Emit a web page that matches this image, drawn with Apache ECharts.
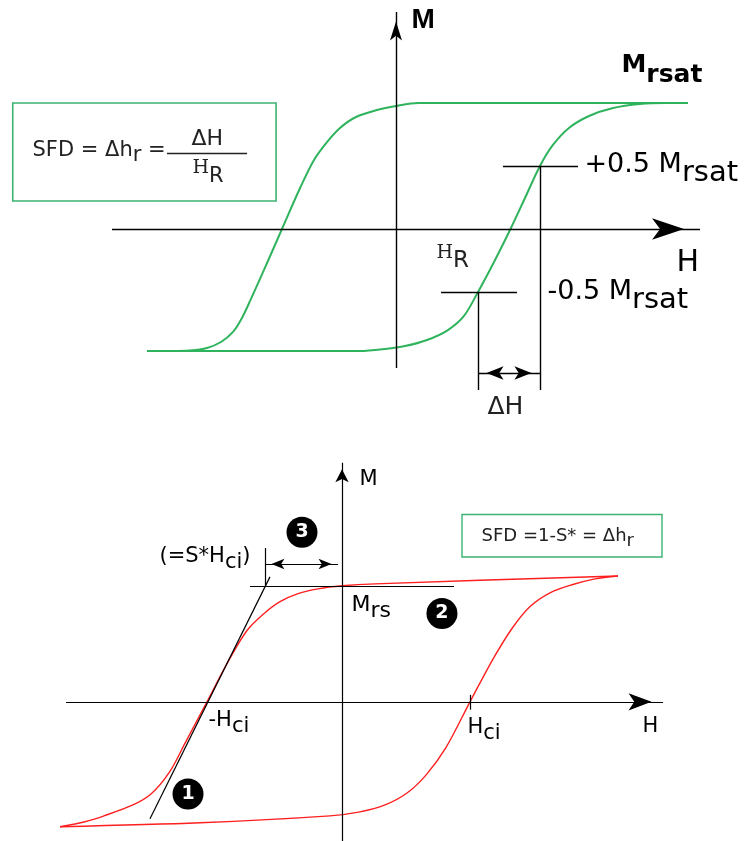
<!DOCTYPE html>
<html>
<head>
<meta charset="utf-8">
<script src="https://cdn.jsdelivr.net/npm/echarts@6/dist/echarts.min.js"></script>
<style>
html,body{margin:0;padding:0;background:#fff}
#chart{width:750px;height:841px}
</style>
</head>
<body>
<div id="chart"></div>
<script>
// ---------- Remanence loop (upper panel), H in units of H_R, M in units of M_rsat ----------
const remUpperH = [2.517, 1.5, 0.19, 0, -0.164, -0.345, -0.483, -0.595, -0.707, -0.823, -0.983,
  -1.138, -1.254, -1.328, -1.405, -1.509, -1.629, -1.776, -1.948];
const remUpperM = [1.0, 1.0, 1.0, 0.976, 0.944, 0.889, 0.802, 0.690, 0.548, 0.333, 0,
  -0.325, -0.563, -0.706, -0.817, -0.897, -0.944, -0.964, -0.968];
const remLowerH = [-2.147, -0.310, -0.095, 0.078, 0.267, 0.448, 0.586, 0.707, 0.845, 0.987, 1.116, 1.241,
  1.353, 1.491, 1.664, 1.871, 2.103, 2.319, 2.517];
const remLowerM = [-0.968, -0.968, -0.952, -0.929, -0.881, -0.802, -0.690, -0.5, -0.262, 0, 0.254, 0.5,
  0.667, 0.802, 0.897, 0.960, 0.992, 1.0, 1.0];

// ---------- Hysteresis loop (lower panel), H in units of H_ci, M in units of M_rs ----------
const hysUpperH = [2.156, 0.258, 0, -0.1875, -0.344, -0.484, -0.609, -0.742, -0.875, -1.055,
  -1.223, -1.348, -1.492, -1.633, -1.859, -2.008, -2.203];
const hysUpperM = [1.085, 1.017, 1.0, 0.974, 0.932, 0.863, 0.761, 0.615, 0.376, 0,
  -0.350, -0.607, -0.795, -0.889, -0.983, -1.034, -1.077];
const hysLowerH = [-2.203, -1.109, -0.094, 0.141, 0.336, 0.508, 0.656, 0.813, 1.0, 1.184, 1.328,
  1.469, 1.625, 1.797, 1.977, 2.156];
const hysLowerM = [-1.077, -1.043, -0.983, -0.949, -0.889, -0.786, -0.632, -0.393, 0, 0.376, 0.632,
  0.821, 0.940, 1.009, 1.060, 1.085];

// Reference levels and field markers
const halfLevels = [0.5, -0.5];          // ±0.5 Mrsat
const halfFields = [1.241, 0.707];       // H where the rising branch crosses ±0.5 Mrsat
const tangentH = [-1.5, -0.563];         // tangent at -Hci (S* construction)
const tangentM = [-1.009, 1.077];
const sStarH = -0.602;                   // S*·Hci intercept on the Mrs level

// Text: [rich text, H, M, main font size]
const upperTexts = [
  ['{ax|M}', 0.138, 1.651, 28],
  ['{mb|M}{mbs|rsat}', 1.948, 1.290, 25],
  ['{bg|+0.5 M}{bgs|rsat}', 1.629, 0.508, 27],
  ['{bg|-0.5 M}{bgs|rsat}', 1.310, -0.5, 27],
  ['{hx|H}', 2.422, -0.278, 30],
  ['{sr|H}{srs|R}', 0.353, -0.194, 19],
  ['{fm|SFD = Δh}{fms|r}{fm| =}', -3.129, 0.615, 21],
  ['{fn|ΔH}', -1.759, 0.706, 22],
  ['{sr|H}{fR|R}', -1.75, 0.480, 19],
  ['{dh|ΔH}', 0.793, -1.421, 25]
];
const lowerTexts = [
  ['{bl|M}', 0.141, 1.915, 21],
  ['{bl|H}', 2.352, -0.218, 21],
  ['{bl|(=S*H}{bls|ci}{bl|)}', -1.422, 1.252, 21],
  ['{bm|M}{bms|rs}', 0.078, 0.829, 22],
  ['{bl|-H}{bls|ci}', -1.039, -0.167, 21],
  ['{bl|H}{bls|ci}', 0.984, -0.222, 21],
  ['{bx|SFD =1-S* = Δh}{bxs|r}', 1.094, 1.423, 18]
];
// Numbered markers: [H, M, number]
const badges = [[-0.3125, 1.462, '3'], [0.781, 0.761, '2'], [-1.203, -0.795, '1']];

// ---------- Panel geometry ----------
const UP = {ox: 396, oy: 229, kx: 116, ky: 126, h: [-3.4, 2.8], m: [-1.5, 1.8]};
const LO = {ox: 342, oy: 704, kx: 128, ky: 117, h: [-2.5, 2.7], m: [-1.2, 2.2]};
function gridOf(p) {
  return {
    left: p.ox + p.h[0] * p.kx, top: p.oy - p.m[1] * p.ky,
    width: (p.h[1] - p.h[0]) * p.kx, height: (p.m[1] - p.m[0]) * p.ky
  };
}
const zip = (a, b) => a.map((v, i) => [v, b[i]]);

const GREEN = '#2fb35c', BOX = '#3cb371', RED = '#ff1f1f', INK = '#000';
const SANS = 'DejaVu Sans';
function st(size, extra) {
  return Object.assign({fontFamily: SANS, fontSize: size, color: INK, verticalAlign: 'top'}, extra || {});
}
const rich = {
  ax: st(28, {fontFamily: 'Liberation Sans', fontWeight: 'bold'}),
  mb: st(25, {fontWeight: 'bold'}),
  mbs: st(25, {fontWeight: 'bold', padding: [10, 0, 0, 0]}),
  bg: st(27),
  bgs: st(29, {padding: [8, 0, 0, 0]}),
  hx: st(30),
  sr: st(19, {fontFamily: 'DejaVu Serif', color: '#222'}),
  srs: st(23, {color: '#222', padding: [6, 0, 0, 0]}),
  fm: st(21, {color: '#222'}),
  fms: st(21, {color: '#222', padding: [5, 0, 0, 0]}),
  fn: st(22, {color: '#222'}),
  fR: st(21, {color: '#222', padding: [8, 0, 0, 0]}),
  dh: st(25, {color: '#222'}),
  bl: st(21),
  bls: st(21, {padding: [6, 0, 0, 0]}),
  bm: st(22),
  bms: st(22, {padding: [6, 0, 0, 0]}),
  bx: st(18, {color: '#222'}),
  bxs: st(18, {color: '#222', padding: [5, 0, 0, 0]})
};

function textItems(list) {
  return list.map(t => ({
    value: [t[1], t[2]],
    label: {formatter: t[0], offset: [0, -t[3] / 2]}
  }));
}
function seg(a, b) { return [{coord: a}, {coord: b}]; }
function arrowTo(a, b, size) {
  return [{coord: a, symbol: 'none'},
    {coord: b, symbol: 'arrow', symbolSize: size, symbolOffset: [0, '50%']}];
}
function arrowBoth(a, b, size) {
  return [{coord: a, symbol: 'arrow', symbolSize: size, symbolOffset: [0, '50%']},
    {coord: b, symbol: 'arrow', symbolSize: size, symbolOffset: [0, '50%']}];
}

const markLineBase = {
  silent: true, symbol: 'none', label: {show: false}, emphasis: {disabled: true},
  lineStyle: {color: INK, width: 1.4, type: 'solid', opacity: 1}, animation: false
};

const hiddenAxis = (p, idx) => ({gridIndex: idx, type: 'value', min: p.h[0], max: p.h[1], show: false});
const hiddenYAxis = (p, idx) => ({gridIndex: idx, type: 'value', min: p.m[0], max: p.m[1], show: false});

const curveStyle = (color, w) => ({
  type: 'line', smooth: 0.3, showSymbol: false, symbol: 'none',
  lineStyle: {color: color, width: w}, silent: true, z: 3
});

const textLayer = {
  type: 'scatter', symbolSize: 1, silent: true, z: 5,
  itemStyle: {color: 'rgba(0,0,0,0)', opacity: 1},
  label: {show: true, position: [0, 0], align: 'left', verticalAlign: 'top', opacity: 1, rich: rich}
};

const option = {
  animation: false,
  grid: [gridOf(UP), gridOf(LO)],
  xAxis: [hiddenAxis(UP, 0), hiddenAxis(LO, 1)],
  yAxis: [hiddenYAxis(UP, 0), hiddenYAxis(LO, 1)],
  series: [
    Object.assign(curveStyle(GREEN, 2), {name: 'upper', xAxisIndex: 0, yAxisIndex: 0, data: zip(remUpperH, remUpperM)}),
    Object.assign(curveStyle(GREEN, 2), {name: 'lower', xAxisIndex: 0, yAxisIndex: 0, data: zip(remLowerH, remLowerM)}),
    Object.assign(curveStyle(RED, 1.4), {name: 'upper', xAxisIndex: 1, yAxisIndex: 1, data: zip(hysUpperH, hysUpperM)}),
    Object.assign(curveStyle(RED, 1.4), {name: 'lower', xAxisIndex: 1, yAxisIndex: 1, data: zip(hysLowerH, hysLowerM)}),
    Object.assign({}, textLayer, {
      // upper panel: axes, guides, formula box and text
      xAxisIndex: 0, yAxisIndex: 0,
      data: textItems(upperTexts),
      markLine: Object.assign({}, markLineBase, {
        data: [
          arrowTo([-2.448, 0], [2.621, 0], [16, 32]),
          arrowTo([0, -1.103], [0, 1.722], [9, 19]),
          seg([0.922, halfLevels[0]], [1.569, halfLevels[0]]),
          seg([0.388, halfLevels[1]], [1.043, halfLevels[1]]),
          seg([halfFields[0], halfLevels[0]], [halfFields[0], -1.278]),
          seg([halfFields[1], halfLevels[1]], [halfFields[1], -1.278]),
          arrowBoth([halfFields[1], -1.143], [halfFields[0], -1.143], [10, 17]),
          [{coord: [-1.974, 0.603], lineStyle: {color: '#222', width: 1.3}}, {coord: [-1.284, 0.603]}]
        ]
      }),
      markArea: {
        silent: true, label: {show: false},
        itemStyle: {color: 'rgba(0,0,0,0)', borderColor: BOX, borderWidth: 1.6},
        data: [[{coord: [-3.304, 0.222]}, {coord: [-1.034, 1.0]}]]
      }
    }),
    Object.assign({}, textLayer, {
      // lower panel: axes, S* construction, box and text
      xAxisIndex: 1, yAxisIndex: 1,
      data: textItems(lowerTexts),
      markLine: Object.assign({}, markLineBase, {
        lineStyle: {color: INK, width: 1.2, type: 'solid', opacity: 1},
        data: [
          arrowTo([-2.156, 0], [2.508, 0], [13, 23]),
          arrowTo([0, -1.2], [0, 2.06], [10, 13]),
          seg([-0.719, 1], [0.875, 1]),
          seg([tangentH[0], tangentM[0]], [tangentH[1], tangentM[1]]),
          seg([sStarH, 1.0], [sStarH, 1.325]),
          arrowBoth([sStarH, 1.188], [-0.031, 1.188], [8, 13]),
          seg([1, 0.06], [1, -0.068])
        ]
      }),
      markArea: {
        silent: true, label: {show: false},
        itemStyle: {color: 'rgba(0,0,0,0)', borderColor: BOX, borderWidth: 1.4},
        data: [[{coord: [0.9375, 1.248]}, {coord: [2.5, 1.615]}]]
      }
    }),
    {
      type: 'scatter', xAxisIndex: 1, yAxisIndex: 1, symbol: 'circle', symbolSize: 31, silent: true, z: 6,
      itemStyle: {color: '#000', opacity: 1},
      label: {show: true, position: 'inside', color: '#fff', fontFamily: SANS, fontWeight: 'bold', fontSize: 19,
        formatter: p => p.data[2]},
      data: badges
    }
  ]
};

const chart = echarts.init(document.getElementById('chart'), null, {renderer: 'canvas'});
chart.setOption(option);
</script>
</body>
</html>
